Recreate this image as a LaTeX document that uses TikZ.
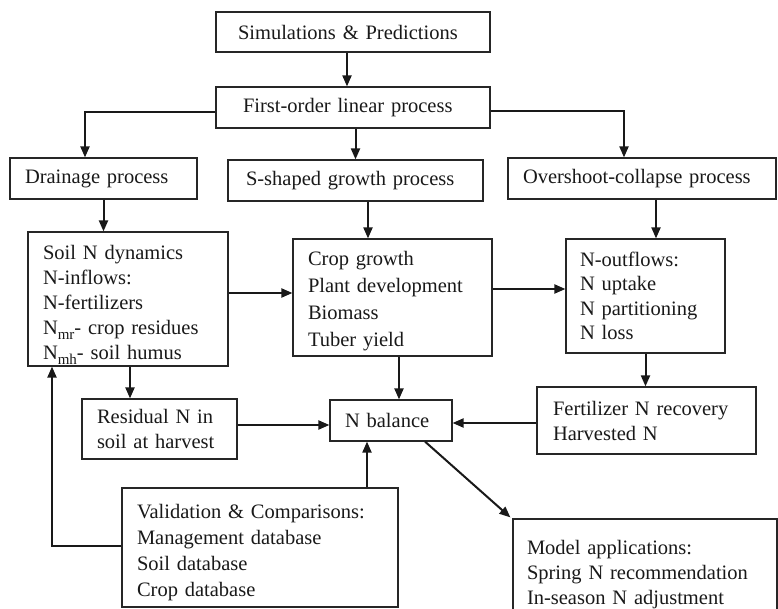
\documentclass[tikz,border=0pt]{standalone}
\usepackage{fontspec}
\setmainfont{Liberation Serif}
\usetikzlibrary{arrows.meta,calc}
\newcommand\subtxt[1]{\raisebox{-5pt}{\fontsize{15}{15}\selectfont #1}}
\begin{document}
\begin{tikzpicture}[x=1pt,y=-1pt,
  box/.style={draw=black!85, line width=1.2pt, align=left, inner ysep=0pt,
    font=\fontsize{20.5}{25}\selectfont, text=black!90},
  arr/.style={draw=black!90, line width=2pt, -{Triangle[length=11pt,width=9pt]}}]
\clip (0,0) rectangle (778,609);
\fill[white] (0,0) rectangle (778,609);
% row 0
\node[box, minimum width=274pt, minimum height=40pt, inner xsep=22pt, text width=230pt] (sim) at (353,32) {Simulations \& Predictions};
\node[box, minimum width=274pt, minimum height=41pt, inner xsep=27pt, text width=220pt] (first) at (353,107.5) {First-order linear process};
% row 1
\node[box, minimum width=187pt, minimum height=41pt, inner xsep=15pt, text width=157pt] (drain) at (103.5,178.5) {Drainage process};
\node[box, minimum width=255pt, minimum height=41pt, inner xsep=18pt, text width=219pt] (sshape) at (355.5,180.5) {S-shaped growth process};
\node[box, minimum width=268pt, minimum height=41pt, inner xsep=15pt, text width=238pt] (over) at (642,178.5) {Overshoot-collapse process};
% row 2
\node[box, minimum width=200pt, minimum height=134pt, inner xsep=15pt, text width=170pt] (soil) at (128,299) {\rule{0pt}{25.5pt}Soil N dynamics\\N-inflows:\\N-fertilizers\\N\subtxt{mr}- crop residues\\N\subtxt{mh}- soil humus};
\node[box, minimum width=199pt, minimum height=117pt, inner xsep=15pt, text width=169pt, font=\fontsize{20.5}{27}\selectfont] (crop) at (392.5,297.5) {\rule{0pt}{21.5pt}Crop growth\\Plant development\\Biomass\\Tuber yield};
\node[box, minimum width=159pt, minimum height=114pt, inner xsep=14pt, text width=131pt, font=\fontsize{20.5}{24.5}\selectfont] (nout) at (645.5,296) {N-outflows:\\N uptake\\N partitioning\\N loss};
% row 3
\node[box, minimum width=155pt, minimum height=60pt, inner xsep=15pt, text width=125pt] (resid) at (159.5,429) {Residual N in\\soil at harvest};
\node[box, minimum width=122pt, minimum height=41pt, inner xsep=15pt, text width=92pt] (nbal) at (391,420.5) {N balance};
\node[box, minimum width=219pt, minimum height=67pt, inner xsep=16pt, text width=187pt] (fert) at (646.5,420.5) {Fertilizer N recovery\\Harvested N};
% row 4
\node[box, minimum width=276pt, minimum height=119pt, inner xsep=15pt, text width=246pt, font=\fontsize{20.5}{26}\selectfont] (valid) at (260,547.5) {\rule{0pt}{23.5pt}Validation \& Comparisons:\\Management database\\Soil database\\Crop database};
\node[box, minimum width=264pt, minimum height=110pt, inner xsep=14pt, text width=236pt, font=\fontsize{20.5}{25}\selectfont] (model) at (645,574) {\rule{0pt}{15pt}Model applications:\\Spring N recommendation\\In-season N adjustment};
% connectors
\draw[arr] ([xshift=-6pt]sim.south) -- ([xshift=-6pt]first.north);
\draw[arr] ([yshift=-5pt]first.west) -| ([xshift=-18.5pt]drain.north);
\draw[arr] (first.south -| sshape.north) -- (sshape.north);
\draw[arr] ([yshift=-4pt]first.east) -| ([xshift=-18pt]over.north);
\draw[arr] (drain.south) -- (drain.south |- soil.north);
\draw[arr] ([xshift=12.5pt]sshape.south) -- ([xshift=12.5pt]sshape.south |- crop.north);
\draw[arr] ([xshift=14pt]over.south) -- ([xshift=14pt]over.south |- nout.north);
\draw[arr] ([yshift=6pt]soil.east) -- ([yshift=6pt]soil.east -| crop.west);
\draw[arr] ([yshift=8.5pt]crop.east) -- ([yshift=8.5pt]crop.east -| nout.west);
\draw[arr] ([xshift=2pt]soil.south) -- ([xshift=2pt]soil.south |- resid.north);
\draw[arr] ([xshift=6.5pt]crop.south) -- ([xshift=6.5pt]crop.south |- nbal.north);
\draw[arr] ([yshift=4pt]resid.east) -- ([yshift=4pt]resid.east -| nbal.west);
\draw[arr] (nout.south) -- (nout.south |- fert.north);
\draw[arr] ([yshift=-2.5pt]fert.west) -- ([yshift=-2.5pt]fert.west -| nbal.east);
\draw[arr] ([xshift=-24pt]nbal.south |- valid.north) -- ([xshift=-24pt]nbal.south);
\draw[arr] ([yshift=1.5pt]valid.west) -| ([xshift=-76pt]soil.south);
\draw[arr] ([xshift=34pt]nbal.south) -- ([xshift=-2pt,yshift=1pt]model.north west);
\end{tikzpicture}
\end{document}
